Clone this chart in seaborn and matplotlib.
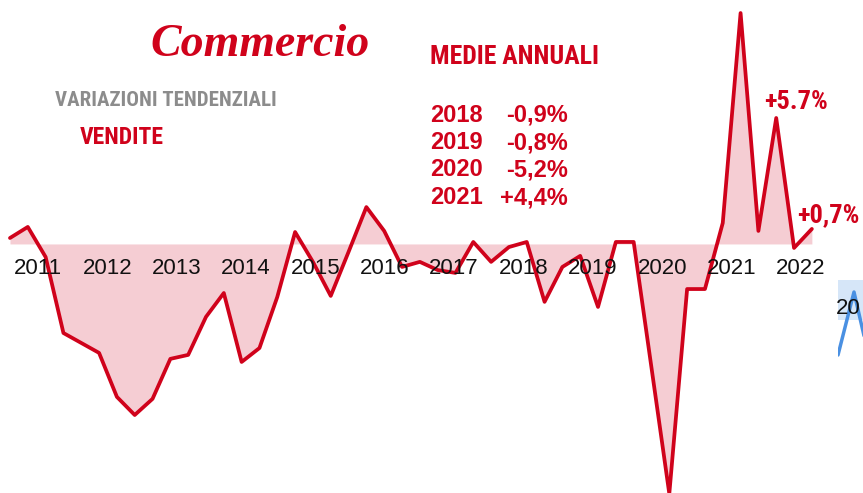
import numpy as np
import pandas as pd
import matplotlib
matplotlib.use('Agg')
import matplotlib.pyplot as plt
import seaborn as sns

# Commercio - vendite, variazioni tendenziali trimestrali (%)
quarters = pd.period_range('2011Q1', '2022Q2', freq='Q').astype(str).tolist()
vendite = [0.27, 0.77, -0.59, -4.03, -4.48, -4.93, -6.92, -7.74,
           -7.01, -5.20, -5.02, -3.30, -2.22, -5.34, -4.71, -2.40,
           0.54, -0.81, -2.35, -0.36, 1.67, 0.59, -1.04, -0.81,
           -1.18, -1.31, 0.09, -0.81, -0.14, 0.09, -2.62, -1.04,
           -0.54, -2.85, 0.09, 0.09, -5.60, -11.30, -2.04, -2.04,
           0.95, 10.45, 0.59, 5.70, -0.18, 0.68]
year_labels = [str(y) for y in range(2011, 2023)]

# medie annuali
medie_anni = ['2018', '2019', '2020', '2021']
medie_valori = ['-0,9%', '-0,8%', '-5,2%', '+4,4%']

# pezzo del grafico accanto (tagliato)
blue_vals = [-3.5, 2.8, -4.2]

RED = '#d0021b'
PINK = '#f5cdd3'
GREY = '#8c8c8c'
BLUE = '#4a90e2'
NARROW = ['Liberation Sans Narrow', 'Roboto Condensed', 'DejaVu Sans']

sns.set_style('white')
plt.rcParams['font.family'] = ['Liberation Sans', 'DejaVu Sans']

df = pd.DataFrame({'quarter': quarters, 'vendite': vendite})
df['pos'] = np.arange(len(df))

fig = plt.figure(figsize=(8.63, 4.93), dpi=100)
ax = fig.add_axes([0, 0, 1, 1])
ax.fill_between(df['pos'], df['vendite'], 0, color=PINK, linewidth=0)
sns.lineplot(data=df, x='pos', y='vendite', ax=ax, color=RED, linewidth=2.7)
ax.set_xlim(-0.56, 47.87)
ax.set_ylim(-11.27, 11.04)
ax.axis('off')

# etichette anni
year_pos = np.linspace(1.57, 44.39, len(year_labels))
for p, lab in zip(year_pos, year_labels):
    ax.text(p, -1.09, lab, ha='center', va='center', fontsize=16, color='#111111')

def fx(px):
    return px / 863

def fy(py):
    return 1 - py / 493

fig.text(fx(150), fy(45), 'Commercio', fontsize=33, color=RED, style='italic', weight='bold',
         family=['Liberation Serif', 'DejaVu Serif'], ha='left', va='center')
fig.text(fx(430), fy(57), 'MEDIE ANNUALI', fontsize=18.5, color=RED, weight='bold',
         family=NARROW, ha='left', va='center')
fig.text(fx(55), fy(101), 'VARIAZIONI TENDENZIALI', fontsize=15, color=GREY, weight='bold',
         family=NARROW, ha='left', va='center')
fig.text(fx(80), fy(137), 'VENDITE', fontsize=17, color=RED, weight='bold',
         family=NARROW, ha='left', va='center')

row_y = [115, 143, 170, 198]
for yy, anno, val in zip(row_y, medie_anni, medie_valori):
    fig.text(fx(430), fy(yy), anno, fontsize=17, color=RED, weight='bold',
             ha='left', va='center')
    fig.text(fx(568), fy(yy), val, fontsize=17, color=RED, weight='bold',
             ha='right', va='center')

fig.text(fx(764), fy(102), '+5.7%', fontsize=19, color=RED, weight='bold',
         family=NARROW, ha='left', va='center')
fig.text(fx(797), fy(215), '+0,7%', fontsize=19, color=RED, weight='bold',
         family=NARROW, ha='left', va='center')

# frammento del grafico blu a destra
ax2 = fig.add_axes([fx(838), fy(380), 32 / 863, 110 / 493])
ax2.axhspan(0, 4, color='#d6e6f8', linewidth=0)
sns.lineplot(x=[0, 1, 2], y=blue_vals, ax=ax2, color=BLUE, linewidth=2.5)
ax2.set_xlim(0, 2)
ax2.set_ylim(-6, 5)
ax2.axis('off')
fig.text(fx(836), fy(308), '20', fontsize=16, color='#111111', ha='left', va='center')

fig.savefig('out.png', dpi=100)
